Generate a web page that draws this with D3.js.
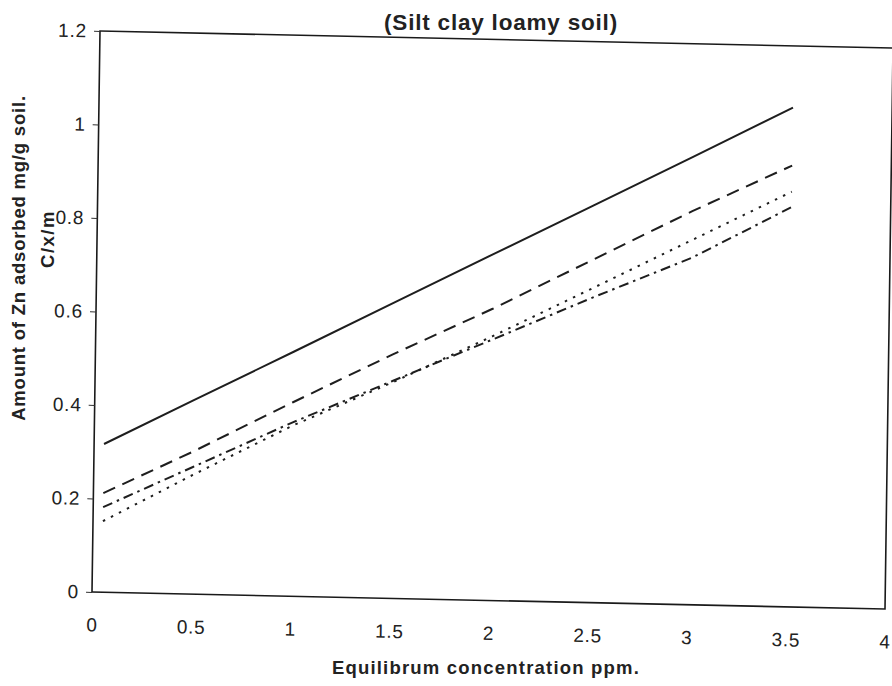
<!DOCTYPE html>
<html>
<head>
<meta charset="utf-8">
<script src="https://cdn.jsdelivr.net/npm/d3@7"></script>
<style>
  html, body { margin: 0; padding: 0; background: #fff; }
  svg { display: block; }
  text { font-family: "Liberation Sans", Arial, sans-serif; fill: #222; }
</style>
</head>
<body>
<svg id="chart" width="892" height="686"></svg>
<script>
// Equilibrium concentration (ppm) at which adsorption was measured
const concentration = [0.05, 0.5, 1.0, 1.5, 2.0, 2.5, 3.0, 3.5];

// C/x/m values for the four isotherms
const seriesSolid   = [0.317, 0.415, 0.523, 0.632, 0.741, 0.849, 0.958, 1.068];
const seriesDashed  = [0.212, 0.305, 0.415, 0.522, 0.624, 0.733, 0.842, 0.944];
const seriesDashDot = [0.182, 0.272, 0.372, 0.465, 0.558, 0.652, 0.742, 0.855];
const seriesDotted  = [0.152, 0.255, 0.365, 0.462, 0.565, 0.672, 0.780, 0.888];

const xTicks = [0, 0.5, 1, 1.5, 2, 2.5, 3, 3.5, 4];
const yTicks = [0, 0.2, 0.4, 0.6, 0.8, 1, 1.2];

const titleText = "(Silt clay loamy soil)";
const xTitle = "Equilibrum concentration ppm.";
const yTitle = "Amount of Zn adsorbed mg/g soil.";
const yTitle2 = "C/x/m";

const FONT = '"Liberation Sans", Arial, sans-serif';

const svg = d3.select("#chart");
const W = 793, H = 561;

// plot group, slightly tilted like the printed page
const g = svg.append("g")
  .attr("transform", `matrix(1, ${17 / W}, ${-8 / H}, 1, 100, 31)`);

const x = d3.scaleLinear().domain([0, 4]).range([0, W]);
const y = d3.scaleLinear().domain([0, 1.2]).range([H, 0]);

// frame
g.append("rect")
  .attr("x", 0).attr("y", 0).attr("width", W).attr("height", H)
  .attr("fill", "none").attr("stroke", "#1a1a1a").attr("stroke-width", 1.6);

// y axis ticks and labels
const yAxis = d3.axisLeft(y).tickValues(yTicks).tickSize(6).tickPadding(7)
  .tickFormat(d => String(d));
const ya = g.append("g").call(yAxis)
  .attr("font-size", 19).attr("font-family", FONT);
ya.select(".domain").remove();
ya.selectAll(".tick line").attr("stroke", "#333").attr("stroke-width", 1);
ya.selectAll(".tick text")
  .attr("fill", "#222")
  .style("letter-spacing", "0.8px");

// x axis labels (no tick marks)
const xAxis = d3.axisBottom(x).tickValues(xTicks).tickSize(0).tickPadding(26)
  .tickFormat(d => String(d));
const xa = g.append("g").attr("transform", `translate(0,${H})`).call(xAxis)
  .attr("font-size", 19).attr("font-family", FONT);
xa.select(".domain").remove();
xa.selectAll(".tick text")
  .attr("fill", "#222")
  .style("letter-spacing", "0.8px");

// isotherm lines
const line = d3.line()
  .x((d, i) => x(concentration[i]))
  .y(d => y(d));

const styles = [
  { data: seriesSolid,   dash: null },
  { data: seriesDashed,  dash: "13,8" },
  { data: seriesDashDot, dash: "10,5,2.5,5" },
  { data: seriesDotted,  dash: "2.5,6.5" }
];

styles.forEach(s => {
  g.append("path")
    .datum(s.data)
    .attr("d", line)
    .attr("fill", "none")
    .attr("stroke", "#1e1e1e")
    .attr("stroke-width", 2)
    .attr("stroke-dasharray", s.dash);
});

// titles
svg.append("text")
  .attr("x", 501).attr("y", 30)
  .attr("text-anchor", "middle")
  .style("font-size", "22.5px").style("font-weight", "bold")
  .style("letter-spacing", "0.8px")
  .text(titleText);

svg.append("text")
  .attr("x", 486).attr("y", 674)
  .attr("text-anchor", "middle")
  .style("font-size", "18.5px").style("font-weight", "bold")
  .style("letter-spacing", "1.2px")
  .text(xTitle);

svg.append("text")
  .attr("transform", "translate(25,258) rotate(-90)")
  .attr("text-anchor", "middle")
  .style("font-size", "18.5px").style("font-weight", "bold")
  .style("letter-spacing", "0.8px")
  .text(yTitle);

svg.append("text")
  .attr("transform", "translate(54,239) rotate(-90)")
  .attr("text-anchor", "middle")
  .style("font-size", "18.5px").style("font-weight", "bold")
  .style("letter-spacing", "1.5px")
  .text(yTitle2);
</script>
</body>
</html>
